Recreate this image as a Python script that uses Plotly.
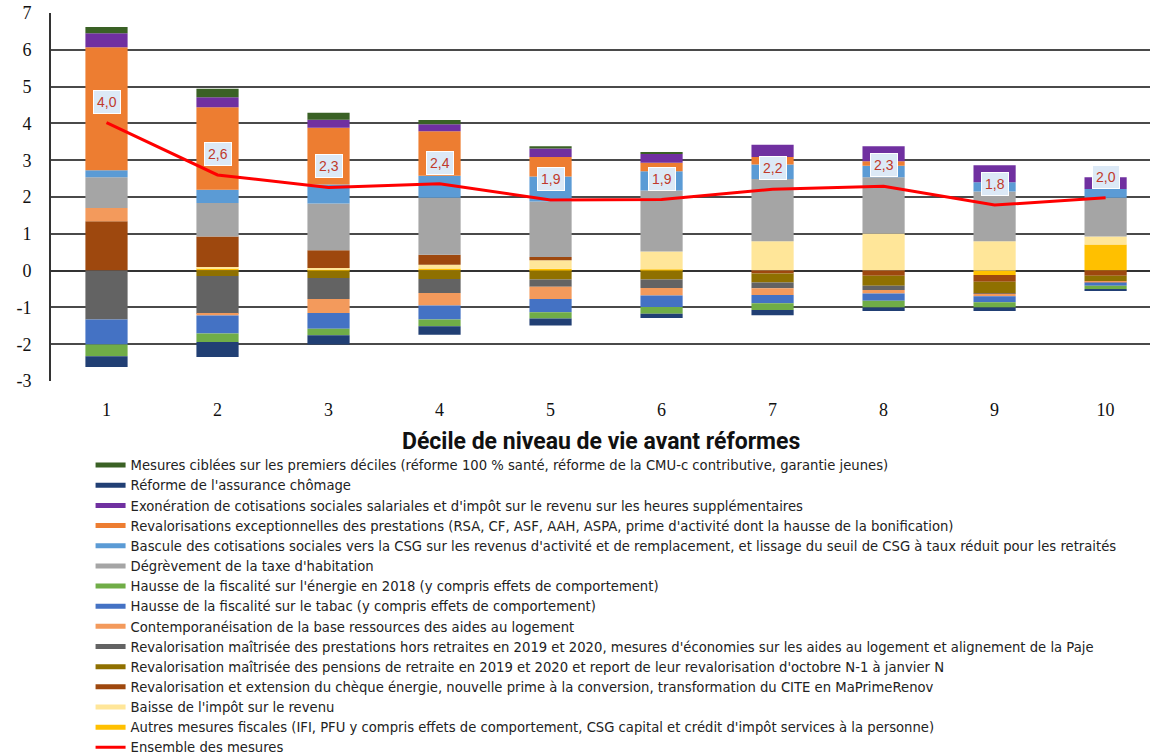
import plotly.graph_objects as go

deciles = [1, 2, 3, 4, 5, 6, 7, 8, 9, 10]
tick_labels = ["1", "2", "3", "4", "5", "6", "7", "8", "9", "10"]
y_ticks = [-3, -2, -1, 0, 1, 2, 3, 4, 5, 6, 7]
y_tick_labels = ["-3", "-2", "-1", "0", "1", "2", "3", "4", "5", "6", "7"]

names = [
    "Mesures ciblées sur les premiers déciles (réforme 100 % santé, réforme de la CMU-c contributive, garantie jeunes)",
    "Réforme de l'assurance chômage",
    "Exonération de cotisations sociales salariales et d'impôt sur le revenu sur les heures supplémentaires",
    "Revalorisations exceptionnelles des prestations (RSA, CF, ASF, AAH, ASPA, prime d'activité dont la hausse de la bonification)",
    "Bascule des cotisations sociales vers la CSG sur les revenus d'activité et de remplacement, et lissage du seuil de CSG à taux réduit pour les retraités",
    "Dégrèvement de la taxe d'habitation",
    "Hausse de la fiscalité sur l'énergie en 2018 (y compris effets de comportement)",
    "Hausse de la fiscalité sur le tabac (y compris effets de comportement)",
    "Contemporanéisation de la base ressources des aides au logement",
    "Revalorisation maîtrisée des prestations hors retraites en 2019 et 2020, mesures d'économies sur les aides au logement et alignement de la Paje",
    "Revalorisation maîtrisée des pensions de retraite en 2019 et 2020 et report de leur revalorisation d'octobre N-1 à janvier N",
    "Revalorisation et extension du chèque énergie, nouvelle prime à la conversion, transformation du CITE en MaPrimeRenov",
    "Baisse de l'impôt sur le revenu",
    "Autres mesures fiscales (IFI, PFU y compris effets de comportement, CSG capital et crédit d'impôt services à la personne)",
]
line_name = "Ensemble des mesures"

ciblees     = [0.17, 0.23, 0.19, 0.11, 0.06, 0.05, 0.00, 0.00, 0.00, 0.00]
chomage     = [-0.29, -0.41, -0.25, -0.23, -0.19, -0.12, -0.14, -0.10, -0.10, -0.03]
exoneration = [0.38, 0.27, 0.22, 0.19, 0.23, 0.24, 0.33, 0.41, 0.46, 0.32]
revalo_exc  = [3.34, 2.24, 1.54, 1.21, 0.53, 0.23, 0.21, 0.12, 0.00, 0.00]
bascule     = [0.19, 0.36, 0.52, 0.60, 0.68, 0.52, 0.39, 0.31, 0.25, 0.24]
taxe_hab    = [0.84, 0.91, 1.27, 1.55, 1.51, 1.66, 1.69, 1.53, 1.35, 1.05]
energie     = [-0.32, -0.23, -0.18, -0.18, -0.17, -0.18, -0.18, -0.18, -0.14, -0.09]
tabac       = [-0.68, -0.49, -0.43, -0.38, -0.36, -0.31, -0.23, -0.20, -0.16, -0.09]
contemp     = [0.36, -0.05, -0.38, -0.34, -0.33, -0.21, -0.18, -0.09, -0.07, -0.03]
prestations = [-1.33, -1.02, -0.57, -0.38, -0.20, -0.23, -0.16, -0.12, -0.02, 0.00]
pensions    = [0.00, -0.15, -0.20, -0.23, -0.24, -0.24, -0.24, -0.27, -0.31, -0.15]
cheque      = [1.34, 0.83, 0.48, 0.27, 0.09, 0.00, -0.08, -0.14, -0.18, -0.14]
baisse_ir   = [0.00, 0.04, 0.03, 0.10, 0.23, 0.49, 0.80, 1.01, 0.80, 0.22]
autres      = [0.00, 0.06, 0.04, 0.06, 0.05, 0.03, 0.00, 0.00, -0.12, 0.71]

ensemble = [4.02, 2.60, 2.26, 2.36, 1.92, 1.93, 2.21, 2.29, 1.78, 1.98]

series = [ciblees, chomage, exoneration, revalo_exc, bascule, taxe_hab, energie,
          tabac, contemp, prestations, pensions, cheque, baisse_ir, autres]
colors = ["#3a6125", "#213f74", "#7030a0", "#ed7d31", "#5b9bd5", "#a5a5a5", "#70ad47",
          "#4472c4", "#f39a5c", "#636363", "#8f7000", "#9e480e", "#ffe699", "#ffc000"]

fig = go.Figure()

# bars: stacked from zero outward in reverse legend order
for i in reversed(range(len(series))):
    fig.add_trace(go.Bar(
        x=deciles, y=series[i], name=names[i], marker=dict(color=colors[i], line=dict(width=0)),
        width=0.38, showlegend=False,
    ))

# legend entries with line symbols
for i in range(len(series)):
    fig.add_trace(go.Scatter(
        x=[None], y=[None], mode="lines", name=names[i],
        line=dict(color=colors[i], width=5), legendrank=i + 1, showlegend=True,
    ))

fig.add_trace(go.Scatter(
    x=deciles, y=ensemble, mode="lines", name=line_name,
    line=dict(color="#ff0000", width=3), legendrank=len(series) + 1,
))

for xv, yv in zip(deciles, ensemble):
    fig.add_annotation(
        x=xv, y=yv, text=f"{yv:.1f}".replace(".", ","), showarrow=False,
        yshift=21, font=dict(family="Liberation Sans, Arial", size=14, color="#c0392b"),
        bgcolor="#dce9f6", bordercolor="#ffffff", borderwidth=1, borderpad=3,
    )

fig.add_annotation(
    x=0.5, y=-0.165, xref="paper", yref="paper", xanchor="center", yanchor="middle",
    text="<b>Décile de niveau de vie avant réformes</b>", showarrow=False,
    font=dict(family="Roboto, Liberation Sans", size=23, color="#111111"),
)

fig.update_layout(
    width=1150, height=755,
    margin=dict(l=51, r=0, t=13, b=374, autoexpand=False),
    barmode="relative",
    plot_bgcolor="#ffffff", paper_bgcolor="#ffffff",
    xaxis=dict(
        range=[0.5, 10.4], tickmode="array", tickvals=deciles, ticktext=tick_labels,
        showgrid=False, zeroline=False, showline=False, ticks="",
        tickfont=dict(family="Liberation Serif, Times New Roman", size=18, color="#111111"),
        ticklabelstandoff=16,
    ),
    yaxis=dict(
        range=[-3, 7], tickmode="array", tickvals=y_ticks, ticktext=y_tick_labels,
        showgrid=True, gridcolor="#4a4a4a", gridwidth=2,
        zeroline=True, zerolinecolor="#333333", zerolinewidth=2,
        showline=True, linecolor="#333333", linewidth=2, ticks="",
        tickfont=dict(family="Liberation Serif, Times New Roman", size=18, color="#111111"),
        ticklabelstandoff=14,
    ),
    legend=dict(
        x=0.036, y=-0.1875, xanchor="left", yanchor="top",
        font=dict(family="DejaVu Sans", size=13.2, color="#222222"),
        bgcolor="rgba(0,0,0,0)", itemwidth=30, tracegroupgap=0,
    ),
    showlegend=True,
)

fig.write_html("out.html")
